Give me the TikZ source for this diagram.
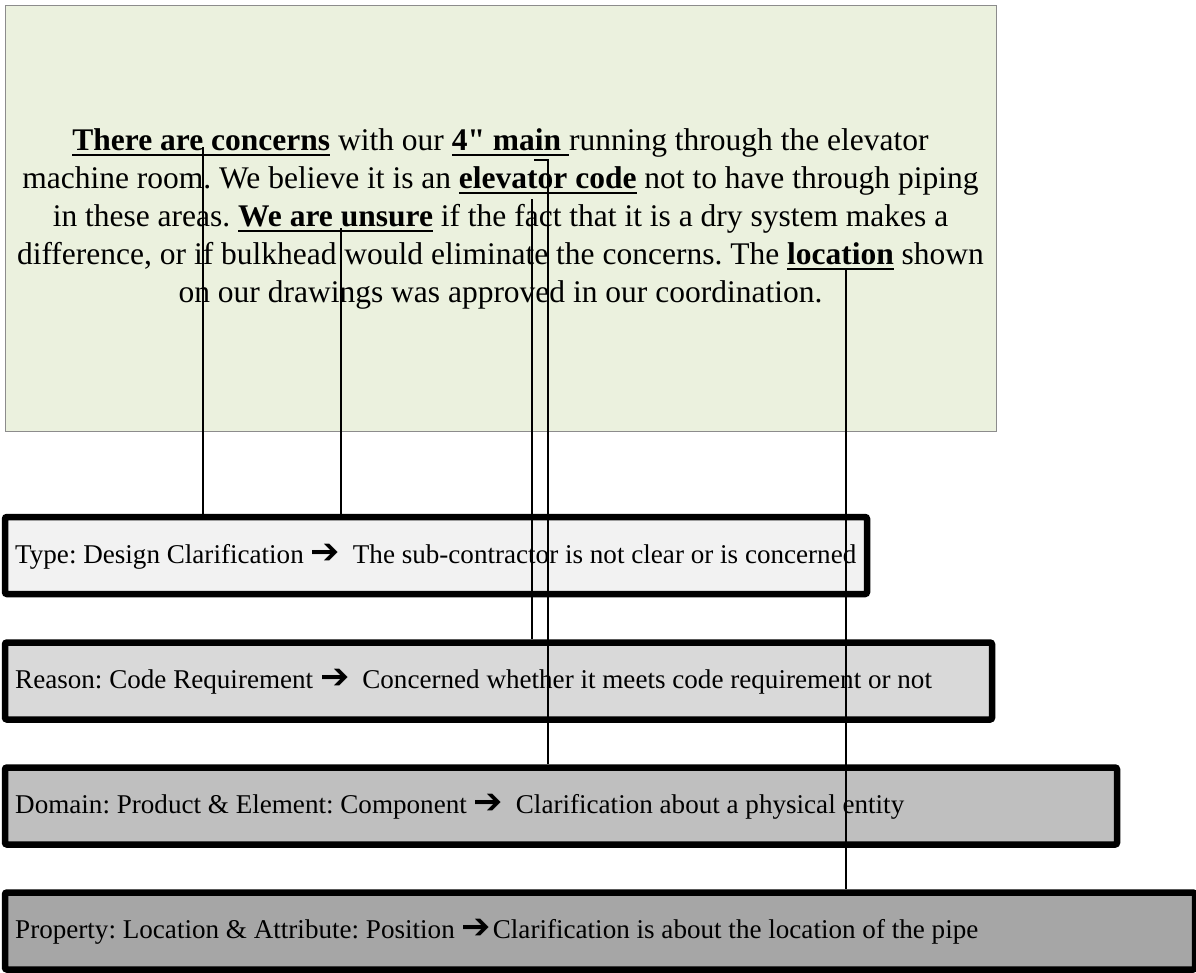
\documentclass[tikz,border=0pt]{standalone}
\usepackage{fontspec}
\setmainfont{Liberation Serif}
% a second handle on the serif without TeX ligatures, for the straight inch mark
\newfontfamily\plainserif{Liberation Serif}
\newfontfamily\symfont{DejaVu Sans}

\definecolor{panelfill}{HTML}{EBF1DE}
\definecolor{panelline}{HTML}{8C8C8C}
\definecolor{typefill}{HTML}{F2F2F2}
\definecolor{reasonfill}{HTML}{D9D9D9}
\definecolor{domainfill}{HTML}{BFBFBF}
\definecolor{propfill}{HTML}{A6A6A6}

% bold phrase with a heavy underline
\newcommand\uln[1]{\setbox0\hbox{#1}\rlap{\rule[-5.5pt]{\wd0}{1.8pt}}\box0\relax}
\newcommand\inch{{\plainserif\bfseries"}}
% heavy arrow between a category and its meaning
\newcommand\arr{{\symfont\fontsize{35}{35}\selectfont ➔}}

\frenchspacing
\begin{document}
\begin{tikzpicture}[x=1pt,y=-1pt,
  panel/.style={draw=panelline, line width=1pt, fill=panelfill, inner sep=0pt},
  catbox/.style={draw=black, line width=6.5pt, rounded corners=2pt, inner sep=0pt, minimum height=77pt},
  catlabel/.style={anchor=base west, inner sep=0pt, font=\fontsize{27.1}{32}\selectfont},
  wire/.style={draw=black, line width=1.4pt}]
\useasboundingbox (0,0) rectangle (1196,972);

% quoted statement
\node[panel, minimum width=991pt, minimum height=426pt] (panel) at (500.5,218) {};
\node[align=center, inner sep=0pt, font=\fontsize{31.5}{38}\selectfont] (stmt) at (500.5,219)
  {\uln{\textbf{There are concerns}} with our \uln{\textbf{4\inch{} main }}running through the elevator\\
   machine room. We believe it is an \uln{\textbf{elevator code}} not to have through piping\\
   in these areas. \uln{\textbf{We are unsure}} if the fact that it is a dry system makes a\\
   difference, or if bulkhead would eliminate the concerns. The \uln{\textbf{location}} shown\\
   on our drawings was approved in our coordination.};

% classification boxes
\node[catbox, fill=typefill,   minimum width=862pt]  (type)   at (436,555.5) {};
\node[catbox, fill=reasonfill, minimum width=987pt]  (reason) at (498.5,681) {};
\node[catbox, fill=domainfill, minimum width=1112pt] (domain) at (561,806) {};
\node[catbox, fill=propfill,   minimum width=1190pt] (prop)   at (600,931) {};

\node[catlabel] (typetxt)   at (15,563) {Type: Design Clarification \arr\hspace{13pt}The sub-contractor is not clear or is concerned};
\node[catlabel] (reasontxt) at (15,688) {Reason: Code Requirement \arr\hspace{13pt}Concerned whether it meets code requirement or not};
\node[catlabel] (domaintxt) at (15,813) {Domain: Product \& Element: Component \arr\hspace{13pt}Clarification about a physical entity};
\node[catlabel] (proptxt)   at (15,938) {Property: Location \& Attribute: Position \arr\hspace{2pt}Clarification is about the location of the pipe};

% links from the marked phrases to their categories
\coordinate (k1) at (203,147);
\coordinate (k2) at (341,228);
\coordinate (k3) at (532,199);
\coordinate (k4h) at (534,160);
\coordinate (k4) at (548,160);
\coordinate (k5) at (846,268);

\draw[wire] (k1) -- (k1 |- type.north);
\draw[wire] (k2) -- (k2 |- type.north);
\draw[wire] (k3) -- (k3 |- reason.north);
\draw[wire] (k4h) -- (k4) -- (k4 |- domain.north);
\draw[wire] (k5) -- (k5 |- prop.north);
\end{tikzpicture}
\end{document}
